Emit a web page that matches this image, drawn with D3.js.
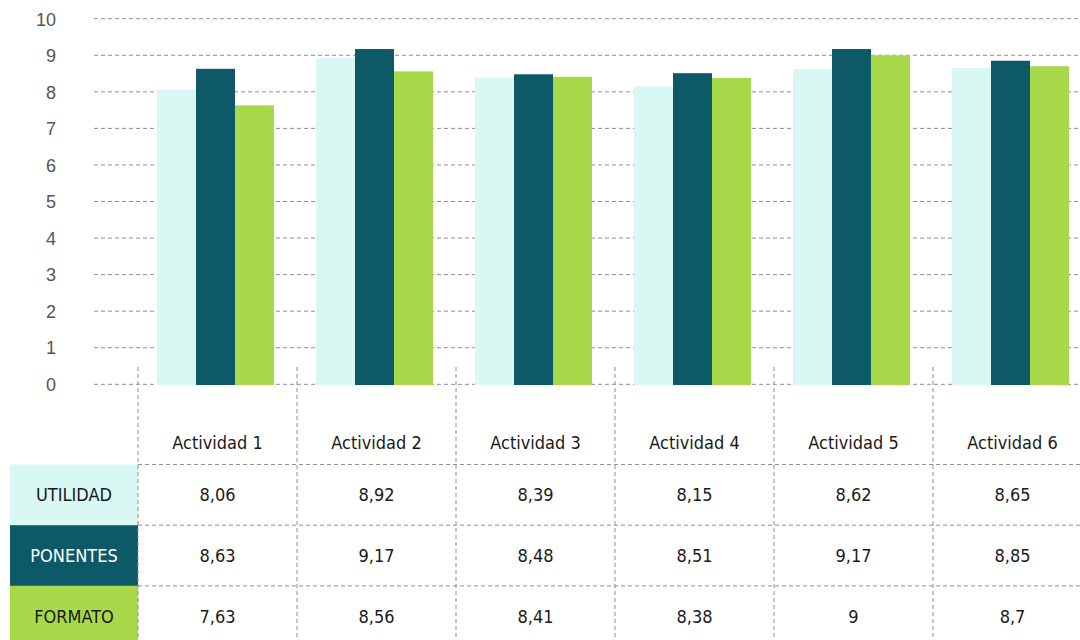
<!DOCTYPE html>
<html>
<head>
<meta charset="utf-8">
<script src="https://cdn.jsdelivr.net/npm/d3@7"></script>
<style>
  html, body { margin: 0; padding: 0; background: #fff; }
  svg { display: block; }
</style>
</head>
<body>
<svg id="chart" width="1080" height="640"></svg>
<script>
// ---- data ----
const categories = ["Actividad 1", "Actividad 2", "Actividad 3", "Actividad 4", "Actividad 5", "Actividad 6"];
const seriesNames = ["UTILIDAD", "PONENTES", "FORMATO"];
const utilidad = [8.06, 8.92, 8.39, 8.15, 8.62, 8.65];
const ponentes = [8.63, 9.17, 8.48, 8.51, 9.17, 8.85];
const formato  = [7.63, 8.56, 8.41, 8.38, 9, 8.7];
const yTicks = [0, 1, 2, 3, 4, 5, 6, 7, 8, 9, 10];

const seriesValues = [utilidad, ponentes, formato];
const colors = ["#d9f7f3", "#0e5968", "#a8d94a"];
const labelColors = ["#1a1a1a", "#ffffff", "#1a1a1a"];

const svg = d3.select("#chart");
const condensed = "'Liberation Sans Narrow', 'DejaVu Sans Condensed', 'Roboto', sans-serif";

// scales
const colW = 159;
const x0 = d3.scaleBand().domain(categories).range([138, 138 + colW * categories.length]).padding(0);
const x1 = d3.scaleBand().domain(seriesNames).range([19, 136]).padding(0);
const y = d3.scaleLinear().domain([0, 10]).range([384.3, 18.7]);

const gridColor = "#8f8f8f";
const dash = "4,3";

// horizontal gridlines
svg.append("g").selectAll("line").data(yTicks).join("line")
  .attr("x1", 94).attr("x2", 1080)
  .attr("y1", d => y(d)).attr("y2", d => y(d))
  .attr("stroke", gridColor).attr("stroke-width", 1)
  .attr("stroke-dasharray", dash);

// y axis labels
svg.append("g").selectAll("text").data(yTicks).join("text")
  .attr("x", 56)
  .attr("y", d => y(d) + 7 - (10 - d) * 0.08)
  .attr("text-anchor", "end")
  .attr("font-family", "'Liberation Sans', Arial, sans-serif")
  .attr("font-size", 18)
  .attr("fill", "#555")
  .text(d => d);

// bars
const groups = svg.append("g").selectAll("g").data(categories).join("g")
  .attr("transform", d => `translate(${x0(d)},0)`);
groups.selectAll("rect")
  .data((d, i) => seriesNames.map((s, k) => ({ s, k, v: seriesValues[k][i] })))
  .join("rect")
  .attr("x", d => x1(d.s))
  .attr("width", x1.bandwidth())
  .attr("y", d => y(d.v))
  .attr("height", d => y(0) - y(d.v) + 0.7)
  .attr("fill", d => colors[d.k]);

// table
const headerTop = 367, headerBottom = 464.5, rowH = 60.7, tableBottom = 640;
const rowTop = i => headerBottom + i * rowH;

// row label cells
seriesNames.forEach((s, k) => {
  svg.append("rect")
    .attr("x", 10).attr("y", rowTop(k))
    .attr("width", 128).attr("height", k === 2 ? tableBottom - rowTop(k) : rowH)
    .attr("fill", colors[k]);
  svg.append("text")
    .attr("x", 74).attr("y", rowTop(k) + rowH / 2 + 6.5)
    .attr("text-anchor", "middle")
    .attr("font-family", condensed)
    .attr("font-size", 18)
    .attr("fill", labelColors[k])
    .text(s);
});

// vertical dashed lines
const vx = categories.map(c => x0(c)).concat([x0.range()[1]]);
svg.append("g").selectAll("line").data(vx).join("line")
  .attr("x1", d => d).attr("x2", d => d)
  .attr("y1", headerTop).attr("y2", tableBottom)
  .attr("stroke", gridColor).attr("stroke-dasharray", dash);

// horizontal table lines
const hy = [headerBottom, rowTop(1), rowTop(2)];
svg.append("g").selectAll("line").data(hy).join("line")
  .attr("x1", 138).attr("x2", 1080)
  .attr("y1", d => d).attr("y2", d => d)
  .attr("stroke", gridColor).attr("stroke-dasharray", dash);

// header labels
svg.append("g").selectAll("text").data(categories).join("text")
  .attr("x", d => x0(d) + colW / 2)
  .attr("y", 449)
  .attr("text-anchor", "middle")
  .attr("font-family", condensed)
  .attr("font-size", 18)
  .attr("fill", "#1a1a1a")
  .text(d => d);

// value cells
const fmt = v => String(v).replace(".", ",");
seriesNames.forEach((s, k) => {
  svg.append("g").selectAll("text").data(categories).join("text")
    .attr("x", d => x0(d) + colW / 2)
    .attr("y", rowTop(k) + rowH / 2 + 6.5)
    .attr("text-anchor", "middle")
    .attr("font-family", condensed)
    .attr("font-size", 18)
    .attr("fill", "#1a1a1a")
    .text((d, i) => fmt(seriesValues[k][i]));
});
</script>
</body>
</html>
